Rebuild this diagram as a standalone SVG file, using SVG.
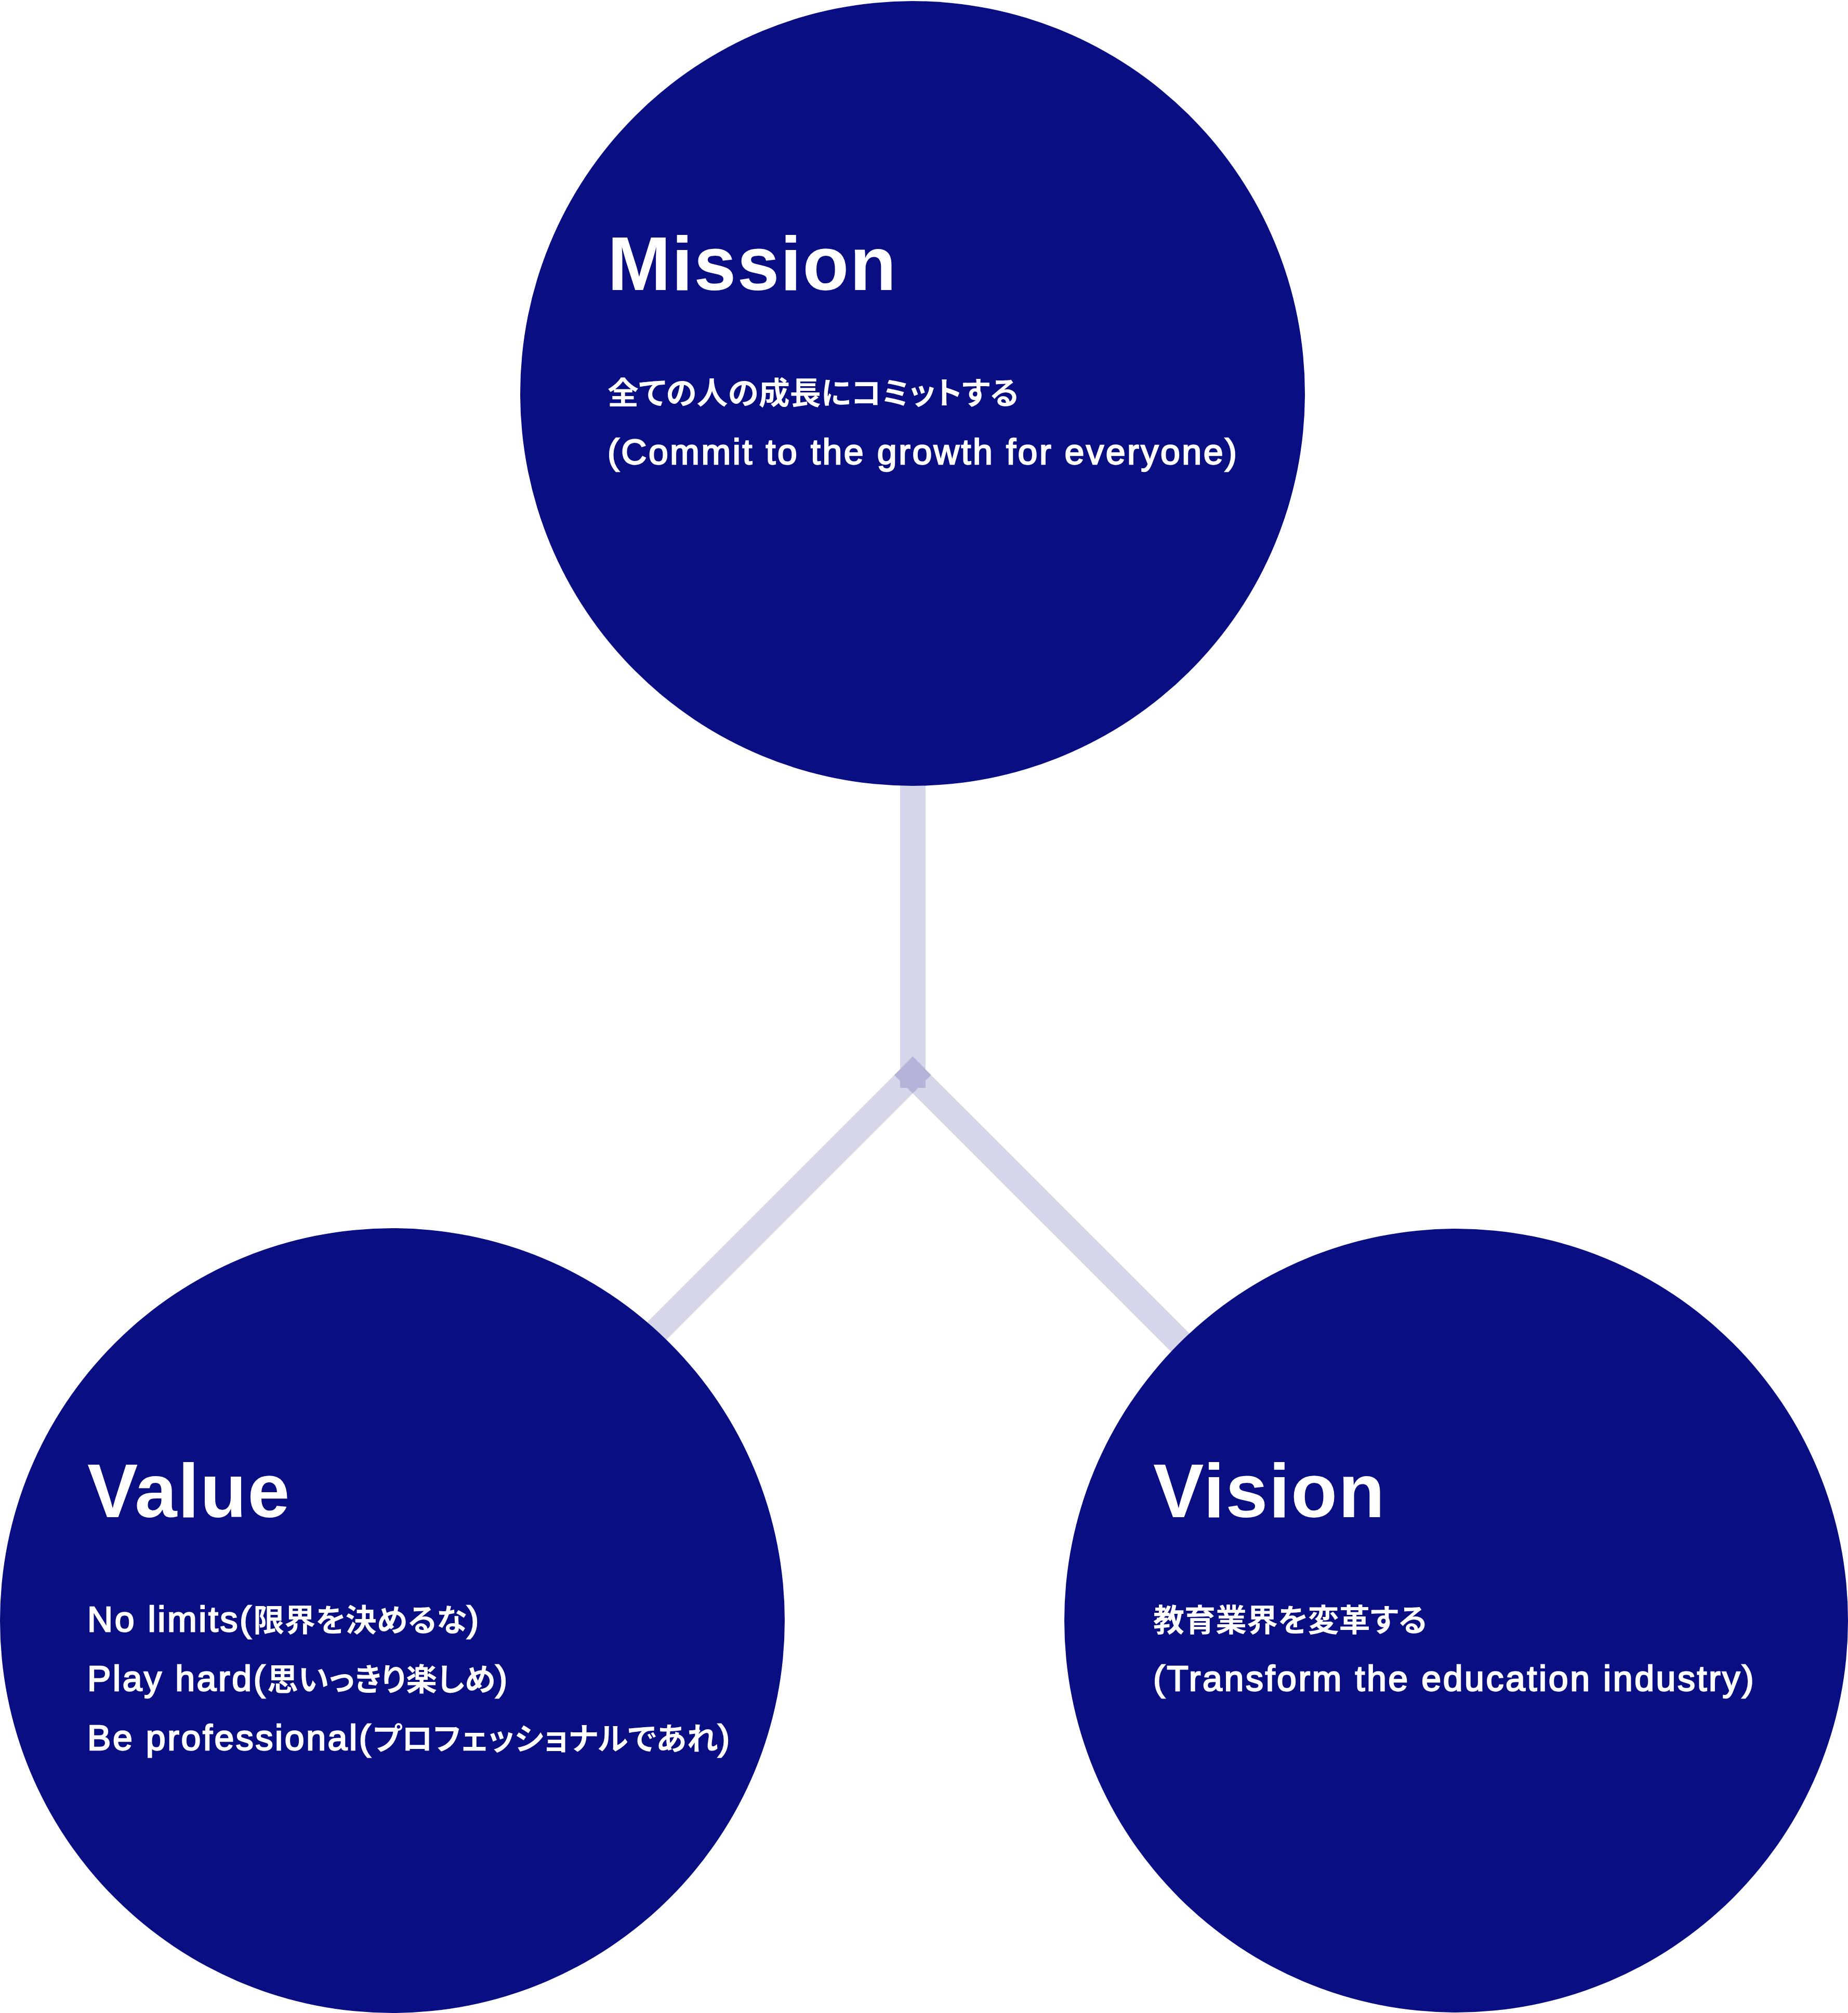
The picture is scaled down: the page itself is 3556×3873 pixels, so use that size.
<svg xmlns="http://www.w3.org/2000/svg" width="3556" height="3873" viewBox="0 0 3556 3873">
  <style>
    .disc { fill: #090e83; }
    .link { stroke: #090e83; stroke-opacity: 0.17; stroke-width: 50; stroke-linecap: butt; fill: none; }
    .stem { fill: #090e83; fill-opacity: 0.17; }
    text { fill: #ffffff; font-family: "Liberation Sans", "Noto Sans CJK JP", sans-serif; }
    .title { font-size: 146px; font-weight: bold; letter-spacing: 2px; }
    .body { font-size: 68px; letter-spacing: 3.6px; stroke: #ffffff; stroke-width: 2.4px; paint-order: stroke; }
    .jp { font-family: "Noto Sans CJK JP", "Liberation Sans", sans-serif; font-size: 60px; font-weight: bold; letter-spacing: 0px; stroke-width: 0; font-feature-settings: "palt" 1; }
  </style>
  <rect width="3556" height="3873" fill="#ffffff"/>

  <!-- connectors: stem from Mission, then two 45° arms; the stem skips the
       square where the arms cross so the joint keeps a single overlap tone -->
  <g id="connectors">
    <path class="stem" d="M1732 1400 H1781 V2057.7 L1756.3 2033 L1732 2057.3 Z
                          M1732 2079.3 L1745.7 2093 H1732 Z
                          M1781 2079.3 L1767 2093 H1781 Z"/>
    <line class="link" x1="1774.15" y1="2050.45" x2="1124.6" y2="2700"/>
    <line class="link" x1="1738.45" y1="2050.45" x2="2388" y2="2700"/>
  </g>

  <g id="mission">
    <circle class="disc" cx="1756" cy="757" r="755"/>
    <text class="title" x="1169" y="558">Mission</text>
    <text class="jp" x="1169" y="778">全ての人の成長にコミットする</text>
    <text class="body" x="1169" y="893">(Commit to the growth for everyone)</text>
  </g>

  <g id="value">
    <circle class="disc" cx="755" cy="3118" r="755"/>
    <text class="title" x="168" y="2919">Value</text>
    <text class="body" x="168" y="3139">No limits(<tspan class="jp">限界を決めるな</tspan>)</text>
    <text class="body" x="168" y="3253">Play hard(<tspan class="jp">思いっきり楽しめ</tspan>)</text>
    <text class="body" x="168" y="3367">Be professional(<tspan class="jp">プロフェッショナルであれ</tspan>)</text>
  </g>

  <g id="vision">
    <circle class="disc" cx="2802" cy="3118" r="754"/>
    <text class="title" x="2219" y="2919">Vision</text>
    <text class="jp" x="2219" y="3139">教育業界を変革する</text>
    <text class="body" x="2219" y="3253">(Transform the education industry)</text>
  </g>
</svg>
